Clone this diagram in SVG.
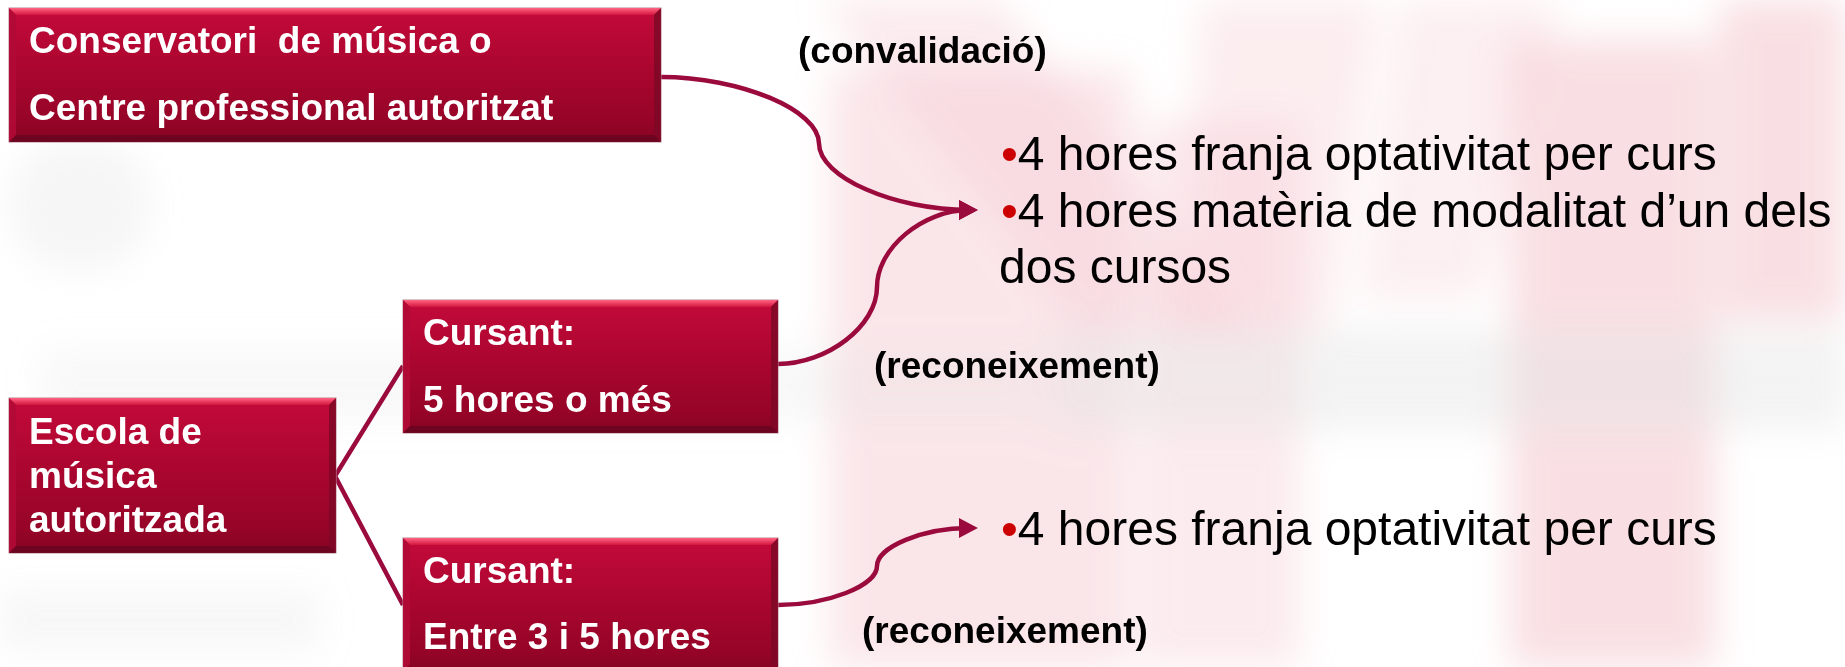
<svg xmlns="http://www.w3.org/2000/svg" width="1845" height="667" viewBox="0 0 1845 667">
  <style>
    .box { fill: url(#boxGrad); stroke: #b48893; stroke-width: 1; }
    .bt { fill: url(#bevelTop); }
    .bl { fill: #b10a36; opacity: 0.9; }
    .br { fill: #7e0826; opacity: 0.85; }
    .bb { fill: #6a0420; opacity: 0.9; }
    .lbl { font-family: "Liberation Sans", Arial, sans-serif; font-weight: bold; font-size: 37px; fill: #ffffff; }
    .note { font-family: "Liberation Sans", Arial, sans-serif; font-weight: bold; font-size: 37px; fill: #000000; }
    .bul { font-family: "Liberation Sans", Arial, sans-serif; font-size: 48px; fill: #000000; }
    .dot { fill: #cc0000; }
    .conn { fill: none; stroke: #9b0a3c; stroke-width: 4.5; }
    .pink { fill: #f4c3cb; }
    .grey { fill: #dcdcdc; }
  </style>
  <defs>
    <linearGradient id="boxGrad" x1="0" y1="0" x2="0" y2="1">
      <stop offset="0" stop-color="#c40a3a"/>
      <stop offset="0.45" stop-color="#ab062f"/>
      <stop offset="0.85" stop-color="#960428"/>
      <stop offset="1" stop-color="#850421"/>
    </linearGradient>
    <linearGradient id="bevelTop" x1="0" y1="0" x2="0" y2="1">
      <stop offset="0" stop-color="#ff6482"/>
      <stop offset="1" stop-color="#d3153f"/>
    </linearGradient>
    <filter id="blur" x="-20%" y="-20%" width="140%" height="140%">
      <feGaussianBlur stdDeviation="18"/>
    </filter>
    <filter id="glow" x="-5%" y="-10%" width="110%" height="120%">
      <feGaussianBlur stdDeviation="4"/>
    </filter>
    <marker id="arrow" markerUnits="userSpaceOnUse" markerWidth="20" markerHeight="20" viewBox="0 0 17 18" refX="9" refY="9" orient="auto">
      <path d="M0,0 L17,9 L0,18 z" fill="#9b0a3c"/>
    </marker>
  </defs>

  <rect width="1845" height="667" fill="#ffffff"/>

  <g id="watermark" filter="url(#blur)" opacity="0.75">
    <rect class="pink" x="830" y="70" width="300" height="597" opacity="0.55"/>
    <rect class="pink" x="1140" y="120" width="160" height="547" opacity="0.45"/>
    <rect class="pink" x="1510" y="40" width="205" height="627" opacity="0.7"/>
    <rect class="pink" x="1720" y="0" width="125" height="320" opacity="0.7"/>
    <polygon class="pink" points="820,0 1000,0 1250,330 1080,330" opacity="0.45"/>
    <polygon class="pink" points="1200,0 1380,0 1330,330 1180,330" opacity="0.4"/>
    <polygon class="pink" points="1400,0 1560,0 1480,300 1360,300" opacity="0.35"/>
    <rect class="grey" x="10" y="140" width="140" height="130" rx="60" opacity="0.35"/>
    <rect class="grey" x="40" y="350" width="1000" height="70" opacity="0.25"/>
    <rect class="grey" x="1050" y="330" width="795" height="100" opacity="0.45"/>
    <rect class="grey" x="0" y="590" width="320" height="60" opacity="0.3"/>
  </g>

  <g id="connectors">
    <polyline class="conn" points="403,366 335,476 403,605"/>
    <path class="conn" d="M661,77 C740,77 819,110 819,143.5 C819,177 894,210 969,210" marker-end="url(#arrow)"/>
    <path class="conn" d="M778,364 C827,364 877,326 877,287 C877,248 923,210 969,210" marker-end="url(#arrow)"/>
    <path class="conn" d="M778,605 C827,605 877,586 877,566 C877,547 923,528 969,528" marker-end="url(#arrow)"/>
  </g>

  <g id="node-conservatori">
    <rect class="box" x="9" y="8" width="652" height="134"/>
    <polygon class="bt" points="9,8 661,8 654,15 16,15"/>
    <polygon class="bl" points="9,8 16,15 16,135 9,142"/>
    <polygon class="br" points="661,8 661,142 654,135 654,15"/>
    <polygon class="bb" points="9,142 661,142 654,135 16,135"/>
    <text class="lbl" x="29" y="53" xml:space="preserve" style="white-space:pre">Conservatori  de música o</text>
    <text class="lbl" x="29" y="120">Centre professional autoritzat</text>
  </g>

  <g id="node-escola">
    <rect class="box" x="9" y="398" width="327" height="155"/>
    <polygon class="bt" points="9,398 336,398 329,405 16,405"/>
    <polygon class="bl" points="9,398 16,405 16,546 9,553"/>
    <polygon class="br" points="336,398 336,553 329,546 329,405"/>
    <polygon class="bb" points="9,553 336,553 329,546 16,546"/>
    <text class="lbl" x="29" y="444">Escola de</text>
    <text class="lbl" x="29" y="488">música</text>
    <text class="lbl" x="29" y="532">autoritzada</text>
  </g>

  <g id="node-cursant-5">
    <rect class="box" x="403" y="300" width="375" height="133"/>
    <polygon class="bt" points="403,300 778,300 771,307 410,307"/>
    <polygon class="bl" points="403,300 410,307 410,426 403,433"/>
    <polygon class="br" points="778,300 778,433 771,426 771,307"/>
    <polygon class="bb" points="403,433 778,433 771,426 410,426"/>
    <text class="lbl" x="423" y="345">Cursant:</text>
    <text class="lbl" x="423" y="412">5 hores o més</text>
  </g>

  <g id="node-cursant-3-5">
    <rect class="box" x="403" y="538" width="375" height="133"/>
    <polygon class="bt" points="403,538 778,538 771,545 410,545"/>
    <polygon class="bl" points="403,538 410,545 410,664 403,671"/>
    <polygon class="br" points="778,538 778,671 771,664 771,545"/>
    <text class="lbl" x="423" y="583">Cursant:</text>
    <text class="lbl" x="423" y="649">Entre 3 i 5 hores</text>
  </g>

  <g id="label-convalidacio">
    <text class="note" x="798" y="63">(convalidació)</text>
  </g>
  <g id="label-reconeixement-1">
    <text class="note" x="874" y="378">(reconeixement)</text>
  </g>
  <g id="label-reconeixement-2">
    <text class="note" x="862" y="643">(reconeixement)</text>
  </g>

  <g id="node-result-1">
    <text class="bul" x="1001" y="170"><tspan class="dot">•</tspan>4 hores franja optativitat per curs</text>
    <text class="bul" x="1001" y="227"><tspan class="dot">•</tspan>4 hores matèria de modalitat d’un dels</text>
    <text class="bul" x="999" y="283">dos cursos</text>
  </g>

  <g id="node-result-2">
    <text class="bul" x="1001" y="545"><tspan class="dot">•</tspan>4 hores franja optativitat per curs</text>
  </g>
</svg>
